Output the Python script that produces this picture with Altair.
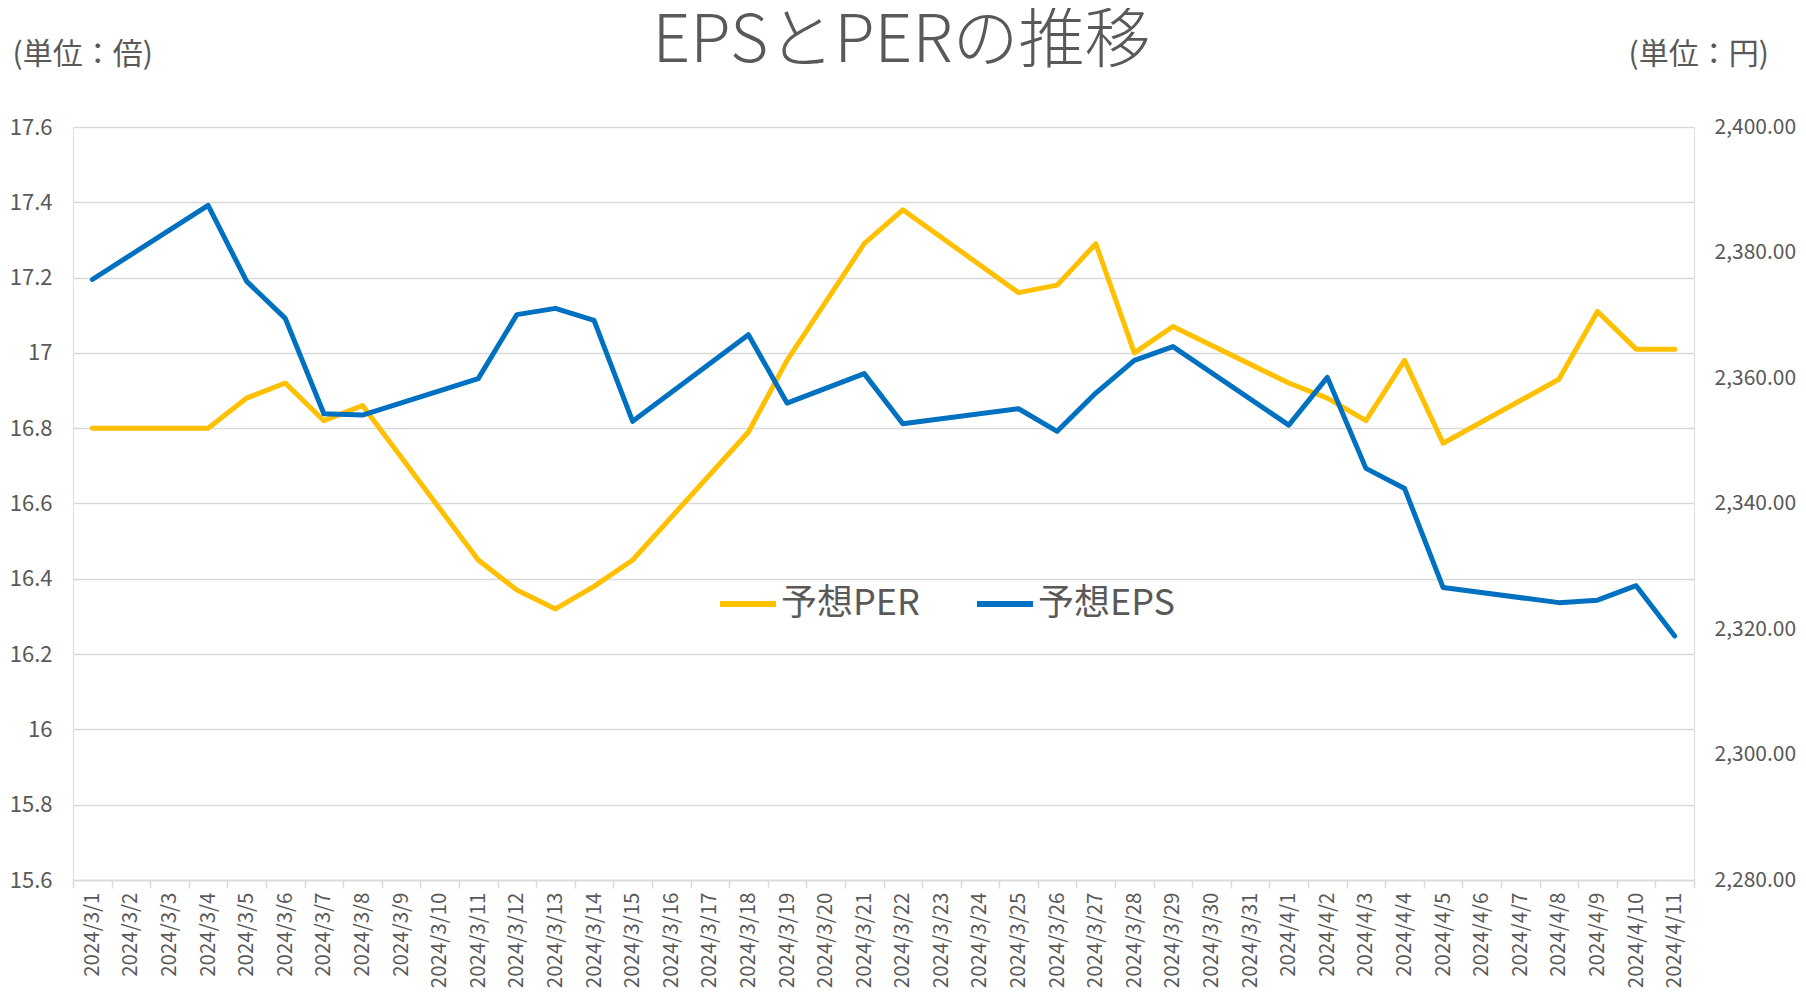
import altair as alt
import pandas as pd

# all category labels on the x axis
dates = [
    "2024/3/1", "2024/3/2", "2024/3/3", "2024/3/4", "2024/3/5", "2024/3/6", "2024/3/7",
    "2024/3/8", "2024/3/9", "2024/3/10", "2024/3/11", "2024/3/12", "2024/3/13", "2024/3/14",
    "2024/3/15", "2024/3/16", "2024/3/17", "2024/3/18", "2024/3/19", "2024/3/20", "2024/3/21",
    "2024/3/22", "2024/3/23", "2024/3/24", "2024/3/25", "2024/3/26", "2024/3/27", "2024/3/28",
    "2024/3/29", "2024/3/30", "2024/3/31", "2024/4/1", "2024/4/2", "2024/4/3", "2024/4/4",
    "2024/4/5", "2024/4/6", "2024/4/7", "2024/4/8", "2024/4/9", "2024/4/10", "2024/4/11",
]

# days that carry values
trade_dates = [
    "2024/3/1", "2024/3/4", "2024/3/5", "2024/3/6", "2024/3/7", "2024/3/8",
    "2024/3/11", "2024/3/12", "2024/3/13", "2024/3/14", "2024/3/15",
    "2024/3/18", "2024/3/19", "2024/3/21", "2024/3/22",
    "2024/3/25", "2024/3/26", "2024/3/27", "2024/3/28", "2024/3/29",
    "2024/4/1", "2024/4/2", "2024/4/3", "2024/4/4", "2024/4/5",
    "2024/4/8", "2024/4/9", "2024/4/10", "2024/4/11",
]

per = [16.80, 16.80, 16.88, 16.92, 16.82, 16.86,
       16.45, 16.37, 16.32, 16.38, 16.45,
       16.79, 16.98, 17.29, 17.38,
       17.16, 17.18, 17.29, 17.00, 17.07,
       16.92, 16.88, 16.82, 16.98, 16.76,
       16.93, 17.11, 17.01, 17.01]

eps = [2375.7, 2387.5, 2375.4, 2369.5, 2354.3, 2354.1,
       2359.9, 2370.1, 2371.1, 2369.2, 2353.1,
       2366.9, 2356.0, 2360.7, 2352.7,
       2355.1, 2351.5, 2357.6, 2362.8, 2365.0,
       2352.5, 2360.1, 2345.6, 2342.4, 2326.6,
       2324.2, 2324.6, 2326.9, 2318.9]

series_names = ["予想PER", "予想EPS"]
series_colors = ["#FFC000", "#0070C0"]

per_ticks = [15.6, 15.8, 16.0, 16.2, 16.4, 16.6, 16.8, 17.0, 17.2, 17.4, 17.6]
eps_ticks = [2280, 2300, 2320, 2340, 2360, 2380, 2400]

chart_title = "EPSとPERの推移"
left_unit = "(単位：倍)"
right_unit = "(単位：円)"

n = len(trade_dates)
df = pd.DataFrame({
    "date": trade_dates * 2,
    "idx": [dates.index(d) for d in trade_dates] * 2,
    "series": [series_names[0]] * n + [series_names[1]] * n,
    "value": per + eps,
})

FONT = "Noto Sans CJK JP"
GREY = "#595959"
GRID = "#D9D9D9"

x_enc = alt.X(
    "date:O",
    bandPosition=0.5,
    scale=alt.Scale(type="band", domain=dates, paddingInner=0, paddingOuter=0),
    axis=alt.Axis(
        labelAngle=270, labelAlign="right", labelBaseline="middle",
        labelFontSize=20.5, labelColor=GREY, labelPadding=4, labelOverlap=False,
        tickBand="extent", tickSize=8, tickColor=GRID, tickWidth=1.5,
        domainColor=GRID, domainWidth=1.5, grid=False,
        # chart title, drawn as the axis title at the top of the figure
        title=chart_title, titleAngle=0, titleAlign="center", titleBaseline="alphabetic",
        titleX=828, titleY=-819, titleFontSize=66, titleFontWeight=300,
        titleColor=GREY, titleFont=FONT,
    ),
)

color_enc = alt.Color(
    "series:N",
    scale=alt.Scale(domain=series_names, range=series_colors),
    legend=alt.Legend(
        title=None, orient="none", legendX=644, legendY=446, direction="horizontal",
        symbolType="stroke", symbolStrokeWidth=6, symbolSize=3136,
        labelFontSize=36, labelColor=GREY, labelFont=FONT,
        columnPadding=45, labelOffset=2,
    ),
)

per_line = alt.Chart(df).transform_filter(
    alt.datum.series == series_names[0]
).mark_line(strokeWidth=5, strokeCap="round", strokeJoin="round").encode(
    x=x_enc,
    y=alt.Y(
        "value:Q",
        scale=alt.Scale(domain=[15.6, 17.6], nice=False, zero=False),
        axis=alt.Axis(
            values=per_ticks, format=".1~f", orient="left",
            title=left_unit, titleAngle=0, titleAlign="left", titleBaseline="middle",
            titleX=-61, titleY=-73, titleFontSize=30, titleFontWeight="normal",
            titleColor=GREY, titleFont=FONT,
            labelFontSize=22, labelColor=GREY, labelPadding=21,
            ticks=False, domain=False, grid=True, gridColor=GRID, gridWidth=1.5,
        ),
    ),
    color=color_enc,
    order=alt.Order("idx:Q"),
)

eps_line = alt.Chart(df).transform_filter(
    alt.datum.series == series_names[1]
).mark_line(strokeWidth=5, strokeCap="round", strokeJoin="round").encode(
    x=x_enc,
    y=alt.Y(
        "value:Q",
        scale=alt.Scale(domain=[2280, 2400], nice=False, zero=False),
        axis=alt.Axis(
            values=eps_ticks, format=",.2f", orient="right",
            title=right_unit, titleAngle=0, titleAlign="left", titleBaseline="middle",
            titleX=-66, titleY=-73, titleFontSize=30, titleFontWeight="normal",
            titleColor=GREY, titleFont=FONT,
            labelFontSize=21, labelColor=GREY, labelPadding=20,
            ticks=False, domain=False, grid=False,
        ),
    ),
    color=color_enc,
    order=alt.Order("idx:Q"),
)

chart = alt.layer(per_line, eps_line).resolve_scale(
    y="independent"
).properties(
    width=1621,
    height=753,
    padding={"left": 65, "top": 119, "right": 104, "bottom": 111},
    autosize=alt.AutoSizeParams(type="none"),
).configure_view(
    stroke=None
).configure(
    font=FONT, background="white"
)

chart.save("out.html", embed_options={"renderer": "svg", "actions": False})
